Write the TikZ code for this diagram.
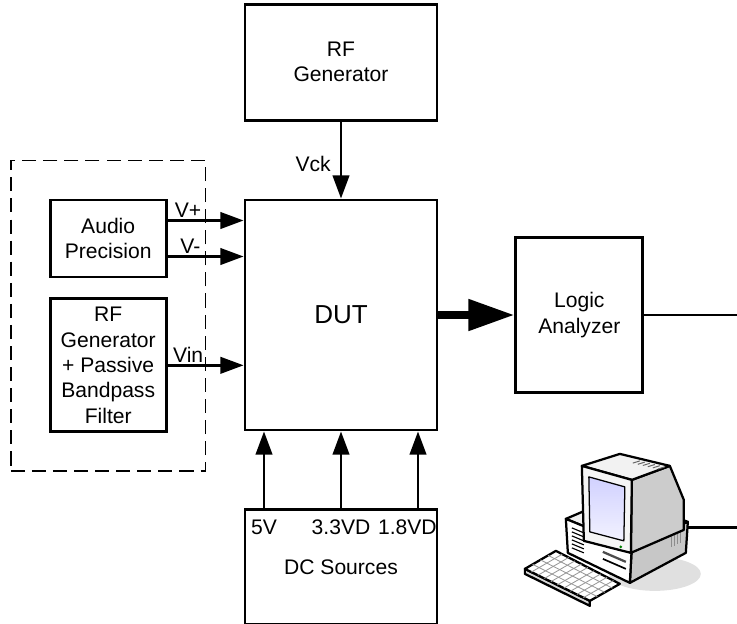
\documentclass[tikz,border=0pt]{standalone}
\usepackage{fontspec}
\setmainfont{Liberation Sans}
\usetikzlibrary{positioning,calc,fit,arrows.meta}

\begin{document}
\begin{tikzpicture}[
  >={Triangle[length=0.58cm, width=0.41cm]},
  node distance=1.9cm,
  every node/.style={font=\fontsize{15pt}{18pt}\selectfont, align=center},
  box/.style={draw, line width=2pt, inner sep=2pt},
  wire/.style={->, line width=2pt},
  bus/.style={-{Triangle[length=1.15cm, width=0.75cm]}, line width=5.6pt},
  tag/.style={inner sep=1pt},
  pcline/.style={line width=1.6pt, line join=round}
]

\useasboundingbox (0,0) rectangle (18.425,-15.575);
\coordinate (rim) at (18.425,0);

% test bench blocks
\node[box, minimum width=4.8cm, minimum height=5.75cm, font=\fontsize{18.5pt}{22pt}\selectfont] (dut) at (8.525,-7.875) {DUT};
\node[box, minimum width=4.8cm, minimum height=2.9cm, above=1.925cm of dut] (clk) {RF\\Generator};
\node[box, minimum width=2.9cm, minimum height=1.925cm, below left=0cm and 1.9cm of dut.north west] (ap) {Audio\\Precision};
\node[box, minimum width=2.9cm, minimum height=3.325cm, below=0.475cm of ap] (rfin) {RF\\Generator\\+ Passive\\Bandpass\\Filter};
\node[box, minimum width=3.175cm, minimum height=3.875cm, right=of dut] (la) {Logic\\Analyzer};
\node[box, minimum width=4.8cm, minimum height=2.875cm, below=1.925cm of dut] (dc) {DC Sources};

% input sources group
\node[draw, line width=1.2pt, dash pattern=on 10pt off 5pt, fit=(ap)(rfin), inner sep=0.95cm] (bench) {};

% supply rails
\node[anchor=north] (v5) at ([xshift=-1.925cm, yshift=-0.17cm]dc.north) {5V};
\node[anchor=north] (v33) at ([yshift=-0.17cm]dc.north) {3.3VD};
\node[anchor=north east, inner xsep=1pt] (v18) at ([yshift=-0.17cm]dc.north east) {1.8VD};

\coordinate (vp) at ([yshift=0.45cm]ap.east);
\coordinate (vm) at ([yshift=-0.45cm]ap.east);

\draw[wire] (clk) -- node[left=3pt, pos=0.55] {Vck} (dut);
\draw[wire] (vp) -- node[above, pos=0.27, tag] {V+} (vp -| dut.west);
\draw[wire] (vm) -- node[above, pos=0.3, tag] {V-} (vm -| dut.west);
\draw[wire] (rfin) -- node[above, pos=0.27, tag] {Vin} (rfin -| dut.west);
\draw[bus] (dut) -- (la);

\foreach \dx in {-1.925, 0, 1.925}
  \draw[wire] ([xshift=\dx cm]dc.north) -- ([xshift=\dx cm]dut.south);

% PC
\begin{scope}[x=0.025cm, y=-0.025cm, pcline]
  \fill[black!12] (655,574) ellipse [x radius=46, y radius=17];
  % case
  \filldraw[fill=black!6] (566,519) -- (622,495) -- (688,522) -- (632,546) -- cycle;
  \filldraw[fill=black!22] (632,546) -- (688,522) -- (686,553) -- (630,583) -- cycle;
  \filldraw[fill=white] (566,519) -- (632,546) -- (630,583) -- (568,553) -- cycle;
  \foreach \k in {0,...,5}
    \draw[line width=0.8pt] (572,{528+4*\k}) -- (584,{533+4*\k});
  \draw[line width=1.6pt, black!70] (603,552) -- (626,562);
  \draw[line width=1.2pt] (603,559) -- (626,569);
  \foreach \k in {0,...,3}
    \draw[black!45, line width=0.8pt] ({672+3*\k},{533-1.3*\k}) -- ++(0,14);
  % monitor
  \filldraw[fill=black!20] (632,480) -- (670,466) -- (684,500) -- (684,530) -- (631,553) -- cycle;
  \filldraw[fill=black!5] (582,466) -- (620,454) -- (670,466) -- (632,480) -- cycle;
  \foreach \k in {0,...,5}
    \draw[black!60, line width=0.7pt] ({640+5*\k},{461+1.2*\k}) -- ++(-7,2.2);
  \filldraw[fill=black!4] (582,466) -- (632,480) -- (631,553) -- (584,541) -- cycle;
  \draw[line width=0.9pt, top color=blue!18!white, bottom color=blue!5!white] (589,477) -- (625,487) -- (624,541) -- (590,532) -- cycle;
  \fill[green!50!black] (621,547) circle [radius=1.5];
  % keyboard
  \filldraw[fill=black!15] (525,569) -- (590,601) -- (590,606) -- (525,574) -- cycle;
  \filldraw[fill=white] (525,569) -- (556,551) -- (620,584) -- (590,601) -- cycle;
  \foreach \t in {0.25,0.5,0.75}
    \draw[black!40, line width=0.6pt] ($(525,569)!\t!(556,551)$) -- ($(590,601)!\t!(620,584)$);
  \foreach \t in {0.1,0.2,0.3,0.4,0.5,0.6,0.7,0.8,0.9}
    \draw[black!40, line width=0.6pt] ($(525,569)!\t!(590,601)$) -- ($(556,551)!\t!(620,584)$);
  \coordinate (pcport) at (688,528);
\end{scope}

\draw[line width=2pt] (la) -- (la.east -| rim);
\draw[line width=2pt] (pcport) -- (pcport -| rim);

\end{tikzpicture}
\end{document}
